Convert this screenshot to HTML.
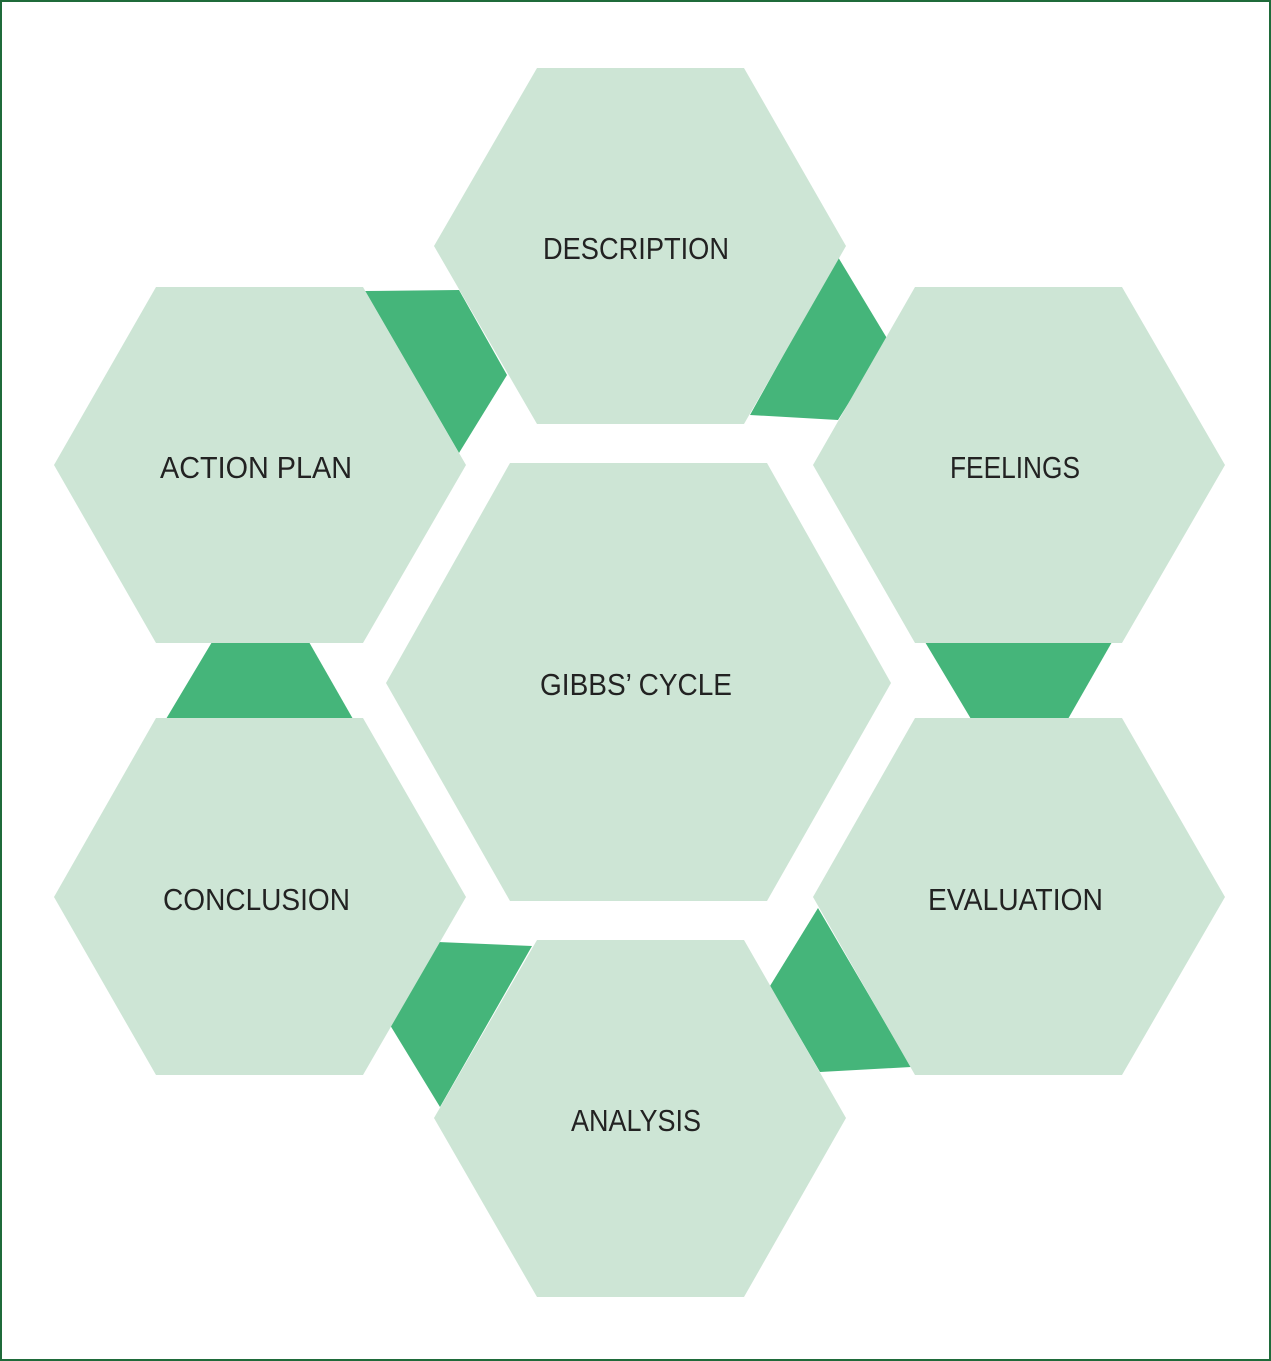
<!DOCTYPE html>
<html><head><meta charset="utf-8"><style>
html,body{margin:0;padding:0;background:#fff;}
svg{display:block;}
text{font-family:"Liberation Sans Narrow","Liberation Sans",sans-serif;font-size:31px;fill:#222;}
</style></head><body>
<svg width="1271" height="1361" viewBox="0 0 1271 1361" xmlns="http://www.w3.org/2000/svg">
<rect x="1" y="1" width="1269" height="1359" fill="#fff" stroke="#1f6b3a" stroke-width="2"/>
<g fill="#45b57a">
<polygon points="838,257 888,340 838,420 750,415"/>
<polygon points="925,642 1112,642 1068,719 971,719"/>
<polygon points="818,908 911,1067 820,1072 770,986"/>
<polygon points="532,946 440,1107 390,1025 438,942"/>
<polygon points="166,719 353,719 309,642 212,642"/>
<polygon points="365,291 459,290 507,375 459,453"/>
</g>
<g fill="#cde5d5">
<polygon points="537,68 744,68 846,246 744,424 537,424 434,246"/>
<polygon points="156,287 363,287 466,465 363,643 156,643 54,465"/>
<polygon points="915,287 1122,287 1225,465 1122,643 915,643 813,465"/>
<polygon points="156,718 363,718 466,897 363,1075 156,1075 54,897"/>
<polygon points="915,718 1122,718 1225,897 1122,1075 915,1075 813,897"/>
<polygon points="537,940 744,940 846,1118 744,1297 537,1297 434,1118"/>
<polygon points="510,463 767,463 891,683 767,901 510,901 386,683"/>
</g>
<text x="543" y="259" textLength="186" lengthAdjust="spacingAndGlyphs">DESCRIPTION</text>
<text x="160" y="478" textLength="192" lengthAdjust="spacingAndGlyphs">ACTION PLAN</text>
<text x="950" y="478" textLength="130" lengthAdjust="spacingAndGlyphs">FEELINGS</text>
<text x="540" y="695" textLength="192" lengthAdjust="spacingAndGlyphs">GIBBS’ CYCLE</text>
<text x="163" y="910" textLength="187" lengthAdjust="spacingAndGlyphs">CONCLUSION</text>
<text x="928" y="910" textLength="175" lengthAdjust="spacingAndGlyphs">EVALUATION</text>
<text x="571" y="1131" textLength="130" lengthAdjust="spacingAndGlyphs">ANALYSIS</text>
</svg>
</body></html>
